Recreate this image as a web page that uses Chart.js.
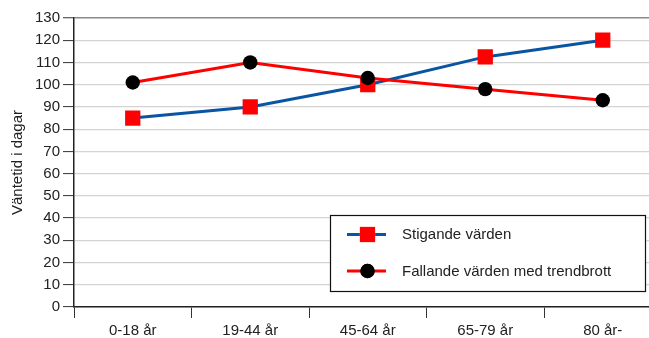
<!DOCTYPE html>
<html>
<head>
<meta charset="utf-8">
<script src="https://cdn.jsdelivr.net/npm/chart.js@4/dist/chart.umd.min.js"></script>
<style>
html,body{margin:0;padding:0;background:#fff;overflow:hidden;width:649px;height:338px;}
#wrap{width:680px;height:338px;}
</style>
</head>
<body>
<div id="wrap"><canvas id="c" width="680" height="338"></canvas></div>
<script>
const categories = ['0-18 år', '19-44 år', '45-64 år', '65-79 år', '80 år-'];
const stigande = [85, 90, 100, 112.5, 120];
const fallande = [101, 110, 103, 98, 93];
const seriesNames = ['Stigande värden', 'Fallande värden med trendbrott'];
const yTitle = 'Väntetid i dagar';
const yMin = 0, yMax = 130, yStep = 10;

const FONT = "'Liberation Sans', Arial, sans-serif";

const boxLegend = {
  id: 'boxLegend',
  afterDraw(chart) {
    const ctx = chart.ctx;
    const bx = 330.5, by = 215.5, bw = 315, bh = 76;
    ctx.save();
    ctx.fillStyle = '#fff';
    ctx.fillRect(bx, by, bw, bh);
    ctx.strokeStyle = '#111';
    ctx.lineWidth = 1.2;
    ctx.strokeRect(bx, by, bw, bh);
    const rows = [234.5, 271];
    chart.data.datasets.forEach((ds, i) => {
      const y = rows[i];
      ctx.strokeStyle = ds.borderColor;
      ctx.lineWidth = ds.borderWidth;
      ctx.beginPath();
      ctx.moveTo(347, y);
      ctx.lineTo(386, y);
      ctx.stroke();
      Chart.helpers.drawPoint(ctx, {
        pointStyle: ds.pointStyle,
        radius: ds.pointRadius,
        borderWidth: 0,
        rotation: 0
      }, 367.5, y);
      ctx.fillStyle = ds.pointBackgroundColor;
      ctx.fill();
      ctx.fillStyle = '#222';
      ctx.font = '15px ' + FONT;
      ctx.textBaseline = 'middle';
      ctx.textAlign = 'left';
      ctx.fillText(ds.label, 402, y + 0.5);
    });
    ctx.restore();
  }
};

new Chart(document.getElementById('c'), {
  type: 'line',
  data: {
    labels: categories,
    datasets: [
      {
        label: seriesNames[0],
        data: stigande,
        borderColor: '#0a55a3',
        borderWidth: 3,
        pointStyle: 'rect',
        pointRadius: 10.8,
        pointHoverRadius: 10.8,
        pointBackgroundColor: '#ff0000',
        pointBorderWidth: 0,
        pointBorderColor: '#ff0000',
        tension: 0,
        order: 2
      },
      {
        label: seriesNames[1],
        data: fallande,
        borderColor: '#ff0000',
        borderWidth: 3,
        pointStyle: 'circle',
        pointRadius: 7.2,
        pointHoverRadius: 7.2,
        pointBackgroundColor: '#000000',
        pointBorderWidth: 0,
        pointBorderColor: '#000000',
        tension: 0,
        order: 1
      }
    ]
  },
  options: {
    responsive: false,
    animation: false,
    devicePixelRatio: 1,
    events: [],
    layout: { padding: { top: 18, right: 18.5, left: 0, bottom: 0 } },
    plugins: {
      legend: { display: false },
      tooltip: { enabled: false },
      title: { display: false }
    },
    scales: {
      x: {
        type: 'category',
        offset: true,
        grid: {
          offset: true,
          drawOnChartArea: false,
          drawTicks: true,
          tickLength: 11,
          tickColor: '#333',
          tickWidth: 1
        },
        border: { display: true, color: '#222', width: 1.5 },
        ticks: {
          color: '#222',
          font: { family: FONT, size: 15 },
          padding: 4,
          maxRotation: 0,
          autoSkip: false
        },
        afterFit(scale) { scale.height = 31; }
      },
      y: {
        min: yMin,
        max: yMax,
        grid: {
          color: (c) => (c.tick && c.tick.value === yMax) ? '#8a8a8a' : '#d4d4d4',
          lineWidth: (c) => (c.tick && c.tick.value === yMax) ? 1.5 : 1.2,
          tickLength: 11,
          tickColor: '#333',
          tickWidth: 1
        },
        border: { display: true, color: '#222', width: 1.5 },
        ticks: {
          stepSize: yStep,
          color: '#222',
          font: { family: FONT, size: 15 },
          padding: 3
        },
        title: {
          display: true,
          text: yTitle,
          color: '#222',
          font: { family: FONT, size: 15 },
          padding: { top: 9, bottom: 0 }
        },
        afterFit(scale) { scale.width = 74; }
      }
    }
  },
  plugins: [boxLegend]
});
</script>
</body>
</html>
